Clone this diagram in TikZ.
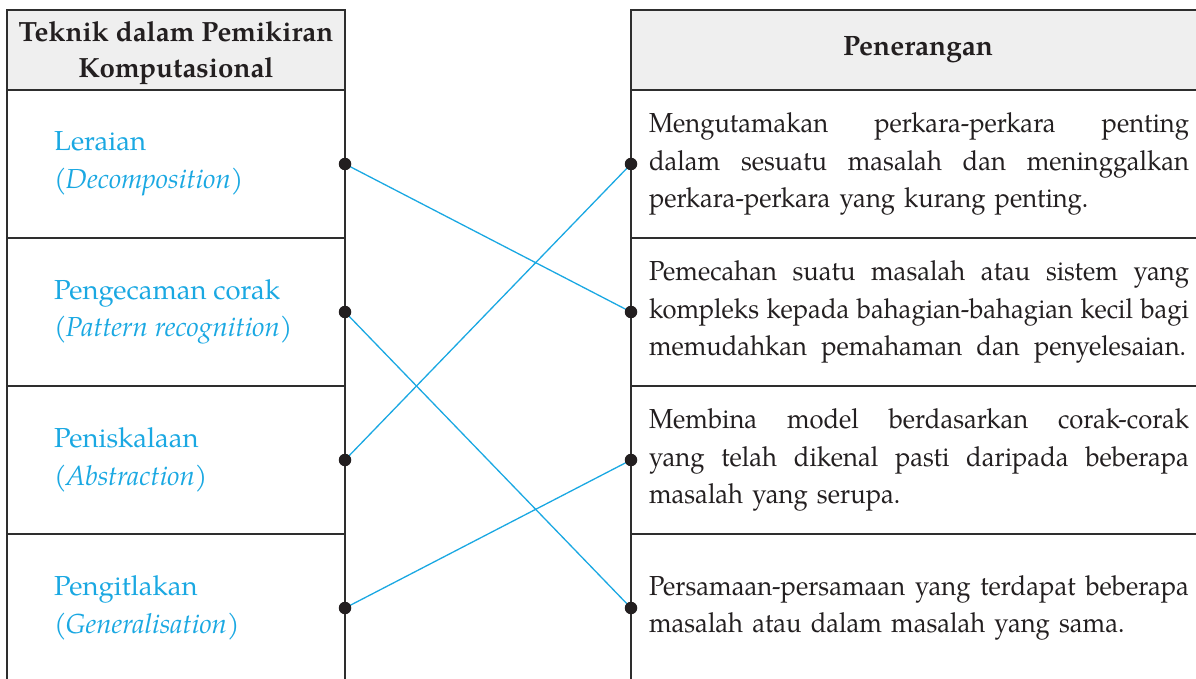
\documentclass[tikz,border=0pt]{standalone}
\usepackage{fontspec}
\setmainfont{TeX Gyre Pagella}
\newfontfamily\narrowfont{TeX Gyre Pagella}[FakeStretch=0.93]
\definecolor{cy}{HTML}{1AA8E2}
\definecolor{bd}{HTML}{2E2E2E}
\definecolor{hd}{HTML}{EFEFEF}
\definecolor{tx}{HTML}{231F20}
\newcommand\jline[2][540pt]{\leavevmode\hbox to #1{\spaceskip=4pt plus 1fil minus 2pt\relax #2}}
\newcommand\nline[1]{\leavevmode\hbox{#1}}
\newcommand\bodyfont{\fontsize{27.5}{37.5}\selectfont}
\newcommand\descfont{\narrowfont\fontsize{27.5}{37.5}\selectfont\spaceskip=5pt plus 1pt minus 1pt\relax}
\tikzset{
  hdcell/.style={draw=bd, fill=hd, line width=1.6pt, minimum height=80pt, inner sep=0pt},
  lcell/.style={draw=bd, line width=1.6pt, minimum width=338pt, minimum height=148pt, inner sep=0pt},
  rcell/.style={draw=bd, line width=1.6pt, minimum width=576pt, minimum height=148pt, inner xsep=18pt, inner ysep=0pt, text width=540pt, align=left, text=tx, font=\descfont},
  ltext/.style={anchor=west, inner sep=0pt, text=cy, align=left, font=\bodyfont},
  dotn/.style={circle, fill=tx, inner sep=0pt, minimum size=12.5pt},
  link/.style={draw=cy, line width=1.3pt}
}
\begin{document}
\begin{tikzpicture}[x=1pt,y=-1pt]
\useasboundingbox (0,0) rectangle (1196,679);
% headers
\node[hdcell, minimum width=338pt] (lh) at (176,50) {};
\node[text=tx, align=center, inner sep=0pt, font=\bfseries\fontsize{27.8}{36}\selectfont] (lht) at (176,53) {Teknik dalam Pemikiran\\Komputasional};
\node[hdcell, minimum width=576pt] (rh) at (919,50) {};
\node[text=tx, inner sep=0pt, font=\bfseries\fontsize{28}{36}\selectfont] (rht) at (918,50) {Penerangan};
% left cells
\node[lcell] (lc1) at (176,164) {};
\node[lcell] (lc2) at (176,312) {};
\node[lcell] (lc3) at (176,460) {};
\node[lcell] (lc4) at (176,608) {};
\node[ltext] (lt1) at (54,164) {Leraian\\(\kern-1pt\textit{Decomposition})};
\node[ltext] (lt2) at (54,312) {Pengecaman corak\\(\kern-1pt\textit{Pattern recognition})};
\node[ltext] (lt3) at (54,460) {Peniskalaan\\(\kern-1pt\textit{Abstraction})};
\node[ltext] (lt4) at (54,608) {Pengitlakan\\(\kern-1pt\textit{Generalisation})};
% right cells
\node[rcell] (rc1) at (919,164) {\jline{Mengutamakan perkara-perkara penting}\\\jline{dalam sesuatu masalah dan meninggalkan}\\\nline{perkara-perkara yang kurang penting.}};
\node[rcell] (rc2) at (919,312) {\jline{Pemecahan suatu masalah atau sistem yang}\\\jline{kompleks kepada bahagian-bahagian kecil bagi}\\\jline[537pt]{memudahkan pemahaman dan penyelesaian.}};
\node[rcell] (rc3) at (919,460) {\jline{Membina model berdasarkan corak-corak}\\\jline{yang telah dikenal pasti daripada beberapa}\\\nline{masalah yang serupa.}};
\node[rcell] (rc4) at (919,608) {\jline{Persamaan-persamaan yang terdapat beberapa}\\\nline{masalah atau dalam masalah yang sama.}};
% connectors
\coordinate (l1) at (345,164);
\coordinate (l2) at (345,312);
\coordinate (l3) at (345,460);
\coordinate (l4) at (345,608);
\coordinate (r1) at (631,164);
\coordinate (r2) at (631,312);
\coordinate (r3) at (631,460);
\coordinate (r4) at (631,608);
\draw[link] (l1) -- (r2);
\draw[link] (l2) -- (r4);
\draw[link] (l3) -- (r1);
\draw[link] (l4) -- (r3);
\foreach \p in {l1,l2,l3,l4,r1,r2,r3,r4} \node[dotn] at (\p) {};
\end{tikzpicture}
\end{document}
